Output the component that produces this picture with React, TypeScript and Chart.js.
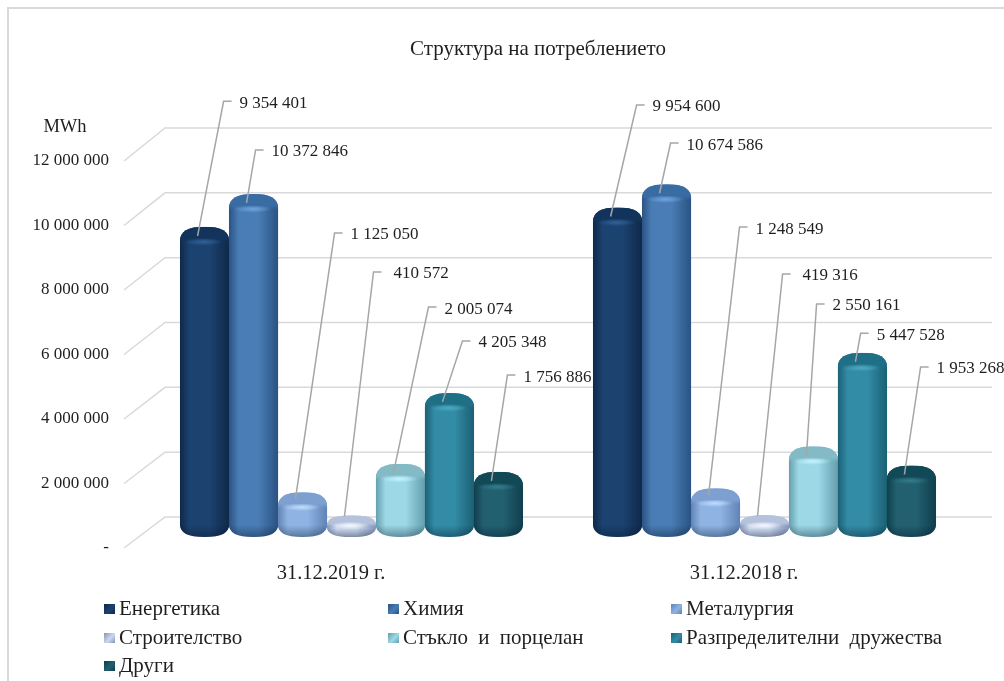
import React, { useEffect, useRef } from "react";
import { Chart, registerables } from "chart.js";

Chart.register(...registerables);

const categories = ["31.12.2019 г.", "31.12.2018 г."];
const seriesNames = ["Енергетика", "Химия", "Металургия", "Строителство", "Стъкло и порцелан", "Разпределителни дружества", "Други"];
const energetika = [9354401, 9954600];
const himia = [10372846, 10674586];
const metalurgia = [1125050, 1248549];
const stroitelstvo = [410572, 419316];
const stuklo = [2005074, 2550161];
const razpredelitelni = [4205348, 5447528];
const drugi = [1756886, 1953268];
const seriesValues = [energetika, himia, metalurgia, stroitelstvo, stuklo, razpredelitelni, drugi];

const chartTitle = "Структура на потреблението";
const unitLabel = "MWh";

// cylinder look: edge, centre, cap, highlight
const palette = [
  ["#0f2848", "#1c4270", "#12345c", "#2f6298"],
  ["#2a5282", "#4a7db5", "#3a6ca4", "#6ea4dc"],
  ["#5f83b4", "#8fb4e4", "#7da0d0", "#c0dcff"],
  ["#8494b8", "#ccd8ee", "#b4c2dc", "#f4f8ff"],
  ["#649eae", "#9cd8e6", "#84bac6", "#c4f4ff"],
  ["#1b6074", "#338ca6", "#1f6f86", "#4caac2"],
  ["#0f3e4c", "#226070", "#124956", "#347c8c"],
];

// leader-label placement relative to each bar: [dx, rise]
const labelPlacement = [
  [[35.5, 144], [35.5, 121]],
  [[18.5, 62.5], [20.5, 59.7]],
  [[48.5, 277.7], [40.5, 279.7]],
  [[42.5, 261.8], [38.6, 259.5]],
  [[44.5, 175.3], [19.6, 160.8]],
  [[29.5, 70.4], [14.7, 38]],
  [[25.5, 115.3], [25.7, 117]],
];

const FONT = '"Liberation Serif", "Times New Roman", serif';
const TEXT = "#1f1f1f";

const fmt = (v: number) => {
  if (v === 0) return "-";
  return String(v).replace(/\B(?=(\d{3})+(?!\d))/g, " ");
};

function cylinderPath(ctx: CanvasRenderingContext2D, x: number, w: number, top: number, bottom: number) {
  const H = bottom - top;
  const ryT = Math.min(15, H / 2);
  const ryB = Math.min(13, H / 2);
  const l = x - w / 2, r = x + w / 2;
  ctx.beginPath();
  ctx.moveTo(l, top + ryT);
  ctx.bezierCurveTo(l, top + ryT * 0.3, l + w * 0.16, top, x, top);
  ctx.bezierCurveTo(r - w * 0.16, top, r, top + ryT * 0.3, r, top + ryT);
  ctx.lineTo(r, bottom - ryB);
  ctx.bezierCurveTo(r, bottom - ryB * 0.3, r - w * 0.16, bottom, x, bottom);
  ctx.bezierCurveTo(l + w * 0.16, bottom, l, bottom - ryB * 0.3, l, bottom - ryB);
  ctx.closePath();
}

function drawCylinder(ctx: CanvasRenderingContext2D, x: number, w: number, top: number, bottom: number, p: string[]) {
  const [edge, mid, cap, hi] = p;
  const H = bottom - top;
  ctx.save();
  cylinderPath(ctx, x, w, top, bottom);
  ctx.clip();
  const g = ctx.createLinearGradient(x - w / 2, 0, x + w / 2, 0);
  g.addColorStop(0, edge);
  g.addColorStop(0.2, mid);
  g.addColorStop(0.6, mid);
  g.addColorStop(1, edge);
  ctx.fillStyle = g;
  ctx.fillRect(x - w / 2, top, w, H);
  // bottom shade
  const sh = Math.min(12, H * 0.4);
  const shade = ctx.createLinearGradient(0, bottom - sh, 0, bottom);
  shade.addColorStop(0, "rgba(0,20,40,0)");
  shade.addColorStop(1, "rgba(0,20,40,0.38)");
  ctx.fillStyle = shade;
  ctx.fillRect(x - w / 2, bottom - sh, w, sh);
  // cap, fading out at its lower edge
  const capH = Math.min(14, H * 0.42);
  const cg = ctx.createLinearGradient(0, top, 0, top + capH + 2);
  cg.addColorStop(0, cap);
  cg.addColorStop(0.7, cap);
  cg.addColorStop(1, cap + "00");
  ctx.fillStyle = cg;
  ctx.fillRect(x - w / 2, top, w, capH + 2);
  // soft highlight under the cap
  ctx.save();
  ctx.translate(x - 1, top + capH + 1);
  ctx.scale(1, 0.2);
  const rad = w * 0.38;
  const rg = ctx.createRadialGradient(0, 0, 0, 0, 0, rad);
  rg.addColorStop(0, hi);
  rg.addColorStop(0.5, hi + "88");
  rg.addColorStop(1, hi + "00");
  ctx.fillStyle = rg;
  ctx.beginPath();
  ctx.arc(0, 0, rad, 0, Math.PI * 2);
  ctx.fill();
  ctx.restore();
  ctx.restore();
}

const cylinders = {
  id: "cylinders",
  beforeDatasetsDraw(chart: any) {
    const { ctx, scales } = chart;
    const y = scales.y;
    ctx.save();
    ctx.strokeStyle = "#d9d9d9";
    ctx.lineWidth = 1.5;
    const frontX = y.left + 124;
    const backX = frontX + 41;
    y.ticks.forEach((t: any) => {
      const py = y.getPixelForValue(t.value);
      const backY = py - 31 - (t.value / 12000000) * 2;
      ctx.beginPath();
      ctx.moveTo(frontX, py);
      ctx.lineTo(backX, backY);
      ctx.lineTo(992, backY);
      ctx.stroke();
    });
    ctx.restore();
  },
  afterDatasetsDraw(chart: any) {
    const { ctx, scales } = chart;
    const zero = scales.y.getPixelForValue(0);
    const floor = zero - 11;
    chart.data.datasets.forEach((ds: any, i: number) => {
      const meta = chart.getDatasetMeta(i);
      meta.data.forEach((el: any) => {
        drawCylinder(ctx, el.x + 0.5, el.width + 0.5, el.y - 19.5, floor, palette[i]);
      });
    });
    // leaders and value labels
    chart.data.datasets.forEach((ds: any, i: number) => {
      const meta = chart.getDatasetMeta(i);
      meta.data.forEach((el: any, j: number) => {
        const [dx, rise] = labelPlacement[i][j];
        const top = el.y - 19.5;
        const H = floor - top;
        const ax = el.x - 6.5;
        const ay = top + Math.min(9, Math.max(1, (H - 20) * 0.25));
        const ty = el.y - rise;
        const tx = el.x + dx;
        const gap = ds.data[j] < 1000000 ? 4 : 0;
        ctx.save();
        ctx.strokeStyle = "#a6a6a6";
        ctx.lineWidth = 1.5;
        ctx.beginPath();
        ctx.moveTo(ax, ay);
        ctx.lineTo(tx - 16 - gap, ty - 1);
        ctx.lineTo(tx - 8 - gap, ty - 1);
        ctx.stroke();
        ctx.fillStyle = TEXT;
        ctx.font = `17px ${FONT}`;
        ctx.textAlign = "left";
        ctx.textBaseline = "middle";
        ctx.fillText(fmt(ds.data[j]), tx, ty + 1);
        ctx.restore();
      });
    });
  },
  afterDraw(chart: any) {
    const { ctx } = chart;
    ctx.save();
    // frame
    ctx.strokeStyle = "#d9d9d9";
    ctx.lineWidth = 2;
    ctx.beginPath();
    ctx.moveTo(8, 681);
    ctx.lineTo(8, 8);
    ctx.lineTo(1004, 8);
    ctx.stroke();
    ctx.fillStyle = TEXT;
    ctx.textBaseline = "middle";
    ctx.textAlign = "center";
    ctx.font = `21px ${FONT}`;
    ctx.fillText(chartTitle, 538, 49);
    ctx.font = `18.5px ${FONT}`;
    ctx.fillText(unitLabel, 65, 127);
    // legend
    const colX = [104, 388, 671];
    const rowY = [609, 638, 666];
    ctx.textAlign = "left";
    ctx.font = `21px ${FONT}`;
    (ctx as any).wordSpacing = "5px";
    seriesNames.forEach((name, i) => {
      const cx = colX[i % 3];
      const cy = rowY[Math.floor(i / 3)];
      const p = palette[i];
      const g = ctx.createLinearGradient(cx, cy - 5, cx + 11, cy + 5);
      g.addColorStop(0, p[0]);
      g.addColorStop(0.55, p[1]);
      g.addColorStop(1, p[0]);
      ctx.fillStyle = g;
      ctx.fillRect(cx, cy - 5, 11, 10);
      ctx.fillStyle = TEXT;
      ctx.fillText(name, cx + 15, cy);
    });
    (ctx as any).wordSpacing = "0px";
    ctx.restore();
  },
};

export default function App() {
  const ref = useRef<HTMLCanvasElement>(null);
  useEffect(() => {
    const chart = new Chart(ref.current as HTMLCanvasElement, {
      type: "bar",
      data: {
        labels: categories,
        datasets: seriesNames.map((name, i) => ({
          label: name,
          data: seriesValues[i],
          backgroundColor: "rgba(0,0,0,0)",
          borderWidth: 0,
          barPercentage: 1,
          categoryPercentage: 0.83,
        })),
      },
      options: {
        responsive: false,
        animation: false,
        devicePixelRatio: 1,
        layout: { padding: { top: 161, left: 0, right: 33.5, bottom: 0 } },
        plugins: { legend: { display: false }, title: { display: false }, tooltip: { enabled: false } },
        scales: {
          x: {
            grid: { display: false, drawTicks: false },
            border: { display: false },
            afterFit: (s: any) => { s.height = 133; },
            ticks: {
              color: TEXT,
              font: { family: FONT, size: 20.5 },
              padding: 13,
              labelOffset: -20,
              maxRotation: 0,
            },
          },
          y: {
            min: 0,
            max: 12000000,
            afterFit: (s: any) => { s.width = 144.5; },
            grid: { display: false, drawTicks: false },
            border: { display: false },
            ticks: {
              stepSize: 2000000,
              color: TEXT,
              font: { family: FONT, size: 17 },
              padding: 35.5,
              callback: (v: any) => fmt(Number(v)),
            },
          },
        },
      },
      plugins: [cylinders],
    } as any);
    return () => chart.destroy();
  }, []);
  return (
    <canvas
      ref={ref}
      width={1004}
      height={681}
      style={{ position: "fixed", left: 0, top: 0, width: 1004, height: 681, background: "#fff" }}
    />
  );
}
